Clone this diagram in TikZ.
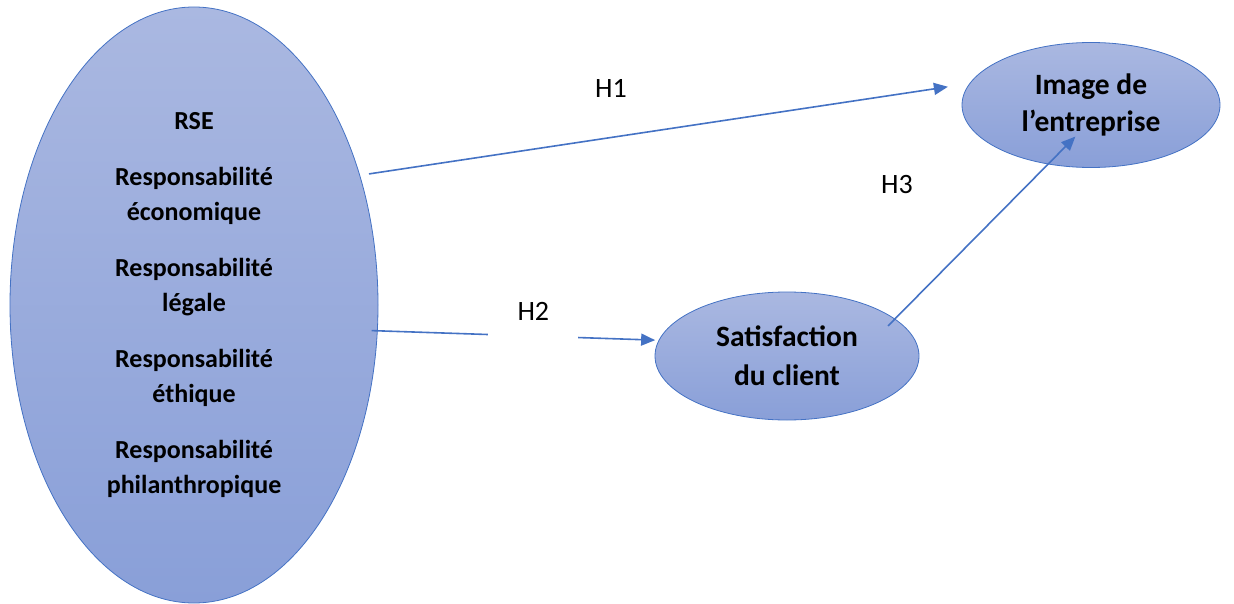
\documentclass[tikz,border=0pt]{standalone}
\usepackage{fontspec}
\setmainfont{Carlito}
\usetikzlibrary{shapes.geometric, arrows.meta}
\definecolor{bordblue}{RGB}{68,114,196}
\definecolor{filltop}{RGB}{170,184,225}
\definecolor{fillbot}{RGB}{137,159,216}

\begin{document}
\begin{tikzpicture}[->,>={Triangle[length=14pt,width=12pt]},x=1pt,y=-1pt]
  \tikzstyle{bubble}=[ellipse,draw=bordblue,line width=0.8pt,top color=filltop,
                      bottom color=fillbot,inner sep=0pt,align=center]
  \tikzstyle{hyp}=[font=\fontsize{28}{32}\selectfont]
  \tikzstyle{link}=[draw=bordblue,line width=1.6pt]

  \useasboundingbox (0,0) rectangle (1234,604);

  \node[bubble, minimum width=368pt, minimum height=596pt,
        font=\bfseries\fontsize{26}{35}\selectfont] (rse) at (194,305)
        {RSE\\[21pt] Responsabilité\\ économique\\[21pt] Responsabilité\\ légale\\[21pt]
         Responsabilité\\ éthique\\[21pt] Responsabilité\\ philanthropique};
  \node[bubble, minimum width=264pt, minimum height=128pt,
        font=\bfseries\fontsize{29.5}{39}\selectfont] (sat) at (787,356) {Satisfaction\\du client};
  \node[bubble, minimum width=258pt, minimum height=125pt,
        font=\bfseries\fontsize{29.5}{37}\selectfont] (img) at (1091,105) {Image de\\l’entreprise};

  \node[hyp] (h1) at (611,88) {H1};
  \node[hyp] (h3) at (897,185) {H3};

  \path (rse.38) edge [link, shorten <=9pt, shorten >=21.7pt] (img.170)
        (rse.-8) edge [link, shorten <=-6pt, shorten >=3.5pt]
              node [hyp, pos=0.554, fill=white, inner sep=0pt, minimum width=90pt,
                    text height=17pt, text depth=49pt] {H2} (sat.173)
        (sat.19) edge [link, shorten <=-10pt, shorten >=-39pt] (img.234);
\end{tikzpicture}
\end{document}
